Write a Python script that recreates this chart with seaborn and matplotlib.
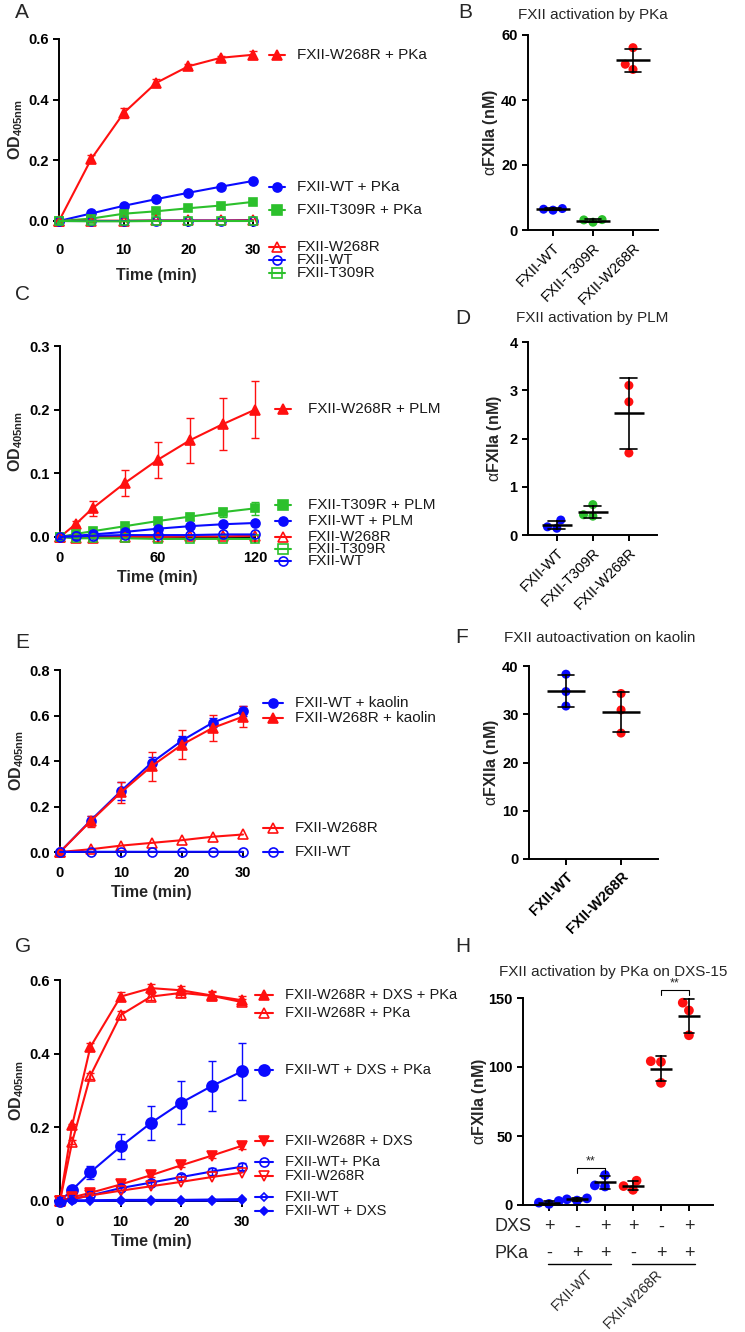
import numpy as np
import pandas as pd
import seaborn as sns
import matplotlib.pyplot as plt
from matplotlib.lines import Line2D

W, H = 745, 1332
BLUE, RED, GREEN = "#0a0aff", "#ff1010", "#2cc02c"

# ---- A: FXII activation by PKa (time course)
a_time = [0, 5, 10, 15, 20, 25, 30]
a_w268r_pka = [0, 0.205, 0.356, 0.455, 0.51, 0.538, 0.548]
a_w268r_pka_sd = [0, 0.014, 0.018, 0.014, 0.006, 0.006, 0.014]
a_wt_pka = [0, 0.025, 0.05, 0.072, 0.093, 0.113, 0.132]
a_t309r_pka = [0, 0.008, 0.024, 0.032, 0.042, 0.051, 0.063]
a_w268r = [0, 0.001, 0.001, 0.002, 0.002, 0.002, 0.003]
a_wt = [0, 0.0, 0.0, 0.001, 0.001, 0.001, 0.001]
a_t309r = [0, -0.001, -0.001, 0, 0, 0, 0]

# ---- B: FXIIa generated by PKa
b_groups = ["FXII-WT", "FXII-T309R", "FXII-W268R"]
b_wt = [6.6, 6.4, 6.1]
b_t309r = [3.2, 3.1, 2.4]
b_w268r = [56.1, 51.0, 49.4]

# ---- C: activation by PLM (time course)
c_time = [0, 10, 20, 40, 60, 80, 100, 120]
c_w268r_plm = [0, 0.021, 0.045, 0.085, 0.121, 0.152, 0.177, 0.2]
c_w268r_plm_sd = [0, 0.004, 0.012, 0.021, 0.029, 0.035, 0.041, 0.045]
c_t309r_plm = [0, 0.005, 0.009, 0.017, 0.025, 0.032, 0.039, 0.045]
c_t309r_plm_sd = [0, 0.001, 0.002, 0.003, 0.004, 0.005, 0.007, 0.01]
c_wt_plm = [0, 0.002, 0.004, 0.008, 0.013, 0.017, 0.02, 0.022]
c_w268r = [0, -0.001, -0.001, 0.0, 0.0, 0.001, 0.001, 0.002]
c_t309r = [0, -0.002, -0.002, -0.002, -0.003, -0.003, -0.003, -0.003]
c_wt = [0, 0.001, 0.002, 0.003, 0.003, 0.003, 0.004, 0.004]

# ---- D: FXIIa generated by PLM
d_groups = ["FXII-WT", "FXII-T309R", "FXII-W268R"]
d_wt = [0.31, 0.17, 0.14]
d_t309r = [0.63, 0.42, 0.39]
d_w268r = [3.1, 2.76, 1.7]

# ---- E: autoactivation on kaolin (time course)
e_time = [0, 5, 10, 15, 20, 25, 30]
e_wt_kaolin = [0, 0.138, 0.268, 0.392, 0.49, 0.568, 0.62]
e_wt_kaolin_sd = [0, 0.02, 0.04, 0.025, 0.02, 0.02, 0.02]
e_w268r_kaolin = [0, 0.135, 0.262, 0.377, 0.472, 0.545, 0.595]
e_w268r_kaolin_sd = [0, 0.025, 0.045, 0.063, 0.063, 0.058, 0.045]
e_w268r = [0, 0.012, 0.028, 0.04, 0.052, 0.067, 0.077]
e_wt = [0, 0.001, 0.001, 0.001, 0.001, 0.001, 0.001]

# ---- F: FXIIa on kaolin
f_groups = ["FXII-WT", "FXII-W268R"]
f_wt = [38.3, 34.7, 31.7]
f_w268r = [34.3, 30.9, 26.1]

# ---- G: PKa on DXS-15 (time course)
g_time = [0, 2, 5, 10, 15, 20, 25, 30]
g_w268r_dxs_pka = [0, 0.205, 0.418, 0.555, 0.578, 0.572, 0.558, 0.545]
g_w268r_dxs_pka_sd = [0, 0.005, 0.01, 0.012, 0.012, 0.012, 0.012, 0.012]
g_w268r_pka = [0, 0.16, 0.34, 0.505, 0.555, 0.565, 0.557, 0.54]
g_w268r_pka_sd = [0, 0.005, 0.008, 0.01, 0.008, 0.01, 0.01, 0.008]
g_wt_dxs_pka = [0, 0.03, 0.078, 0.148, 0.212, 0.267, 0.312, 0.352]
g_wt_dxs_pka_sd = [0, 0.004, 0.018, 0.033, 0.047, 0.058, 0.068, 0.077]
g_w268r_dxs = [0, 0.01, 0.022, 0.045, 0.07, 0.097, 0.123, 0.15]
g_w268r_dxs_sd = [0, 0.002, 0.003, 0.004, 0.005, 0.005, 0.006, 0.008]
g_wt_pka = [0, 0.005, 0.015, 0.035, 0.05, 0.065, 0.08, 0.093]
g_wt_pka_sd = [0, 0.002, 0.004, 0.005, 0.006, 0.007, 0.009, 0.01]
g_w268r = [0, 0.005, 0.015, 0.028, 0.04, 0.052, 0.065, 0.077]
g_wt = [0, 0.002, 0.002, 0.003, 0.003, 0.003, 0.004, 0.005]
g_wt_dxs = [0, 0, 0, 0.001, 0.001, 0.001, 0.001, 0.002]

# ---- H: FXIIa by PKa on DXS-15
h_groups = ["WT DXS", "WT PKa", "WT DXS+PKa", "W268R DXS", "W268R PKa", "W268R DXS+PKa"]
h_colors = [BLUE, BLUE, BLUE, RED, RED, RED]
h_dxs = ["+", "-", "+", "+", "-", "+"]
h_pka = ["-", "+", "+", "-", "+", "+"]
h_wt_dxs = [2.9, 1.7, 0.8]
h_wt_pka = [4.8, 4.1, 3.2]
h_wt_dxs_pka = [21.7, 14.2, 13.4]
h_w268r_dxs = [17.6, 13.7, 11.0]
h_w268r_pka = [104.2, 103.7, 88.5]
h_w268r_dxs_pka = [146.6, 141.0, 123.0]

sns.set_style("ticks")
plt.rcParams["font.family"] = ["Liberation Sans", "DejaVu Sans"]
plt.rcParams["mathtext.fontset"] = "custom"
plt.rcParams["mathtext.rm"] = "Liberation Sans"
plt.rcParams["mathtext.it"] = "Liberation Sans"
plt.rcParams["mathtext.bf"] = "Liberation Sans:bold"
plt.rcParams["axes.linewidth"] = 1.4
for a in ("xtick", "ytick"):
    plt.rcParams[a + ".major.width"] = 1.4
    plt.rcParams[a + ".major.size"] = 4
    plt.rcParams[a + ".color"] = "black"
plt.rcParams["axes.edgecolor"] = "black"

fig = plt.figure(figsize=(W / 100, H / 100), dpi=100)


def px_axes(l, t, r, b):
    return fig.add_axes([l / W, 1 - b / H, (r - l) / W, (b - t) / H])


def style(ax, ylab, ylab_x, bold_x=True):
    sns.despine(ax=ax)
    plt.setp(ax.get_yticklabels(), fontweight="bold", fontsize=10.5)
    plt.setp(ax.get_xticklabels(), fontweight="bold" if bold_x else "normal")
    ax.set_ylabel(ylab, fontsize=11.5, fontweight="bold")
    l = ax.get_position().x0 * W
    w = ax.get_position().width * W
    ax.yaxis.set_label_coords((ylab_x - l) / w, 0.5)


def curve(ax, x, y, color, marker, sd=None, filled=True, ms=6.5):
    if sd is not None:
        ax.errorbar(x, y, yerr=sd, fmt="none", ecolor=color, elinewidth=1,
                    capsize=3, capthick=1, clip_on=False, zorder=2)
    sns.lineplot(x=x, y=y, ax=ax, color=color, marker=marker, markersize=ms,
                 markerfacecolor=color if filled else "none", markeredgecolor=color,
                 markeredgewidth=1.2, linewidth=1.5, clip_on=False, zorder=3)


def key(x0, x1, xt, y, label, color, marker, filled=True, ms=6.5, fs=11):
    fy = 1 - y / H
    fig.add_artist(Line2D([x0 / W, x1 / W], [fy, fy], color=color, lw=1.5))
    fig.add_artist(Line2D([(x0 + x1) / 2 / W], [fy], color=color, marker=marker, ms=ms,
                          mfc=color if filled else "none", mec=color, mew=1.2, ls="none"))
    fig.text(xt / W, fy, label, fontsize=fs, va="center", ha="left", color="#1a1a1a")


def dots(ax, groups, values, colors, size, bar, cap):
    df = pd.DataFrame({"g": np.repeat(groups, [len(v) for v in values]),
                       "v": np.concatenate(values)})
    sns.swarmplot(data=df, x="g", y="v", hue="g", order=groups, hue_order=groups,
                  palette=colors, size=size, ax=ax, legend=False, zorder=2, clip_on=False)
    sns.pointplot(data=df, x="g", y="v", order=groups, errorbar="sd", color="black",
                  marker="_", markersize=bar, markeredgewidth=1.8, linestyle="none",
                  capsize=cap, err_kws={"linewidth": 1.2}, ax=ax, zorder=3)
    ax.set_xlabel("")


def time_axis(ax, xlim, xt, ylim, yt, pad=6, lpad=4):
    ax.set_xlim(*xlim)
    ax.set_ylim(*ylim)
    ax.set_xticks(xt)
    ax.set_yticks(yt)
    ax.tick_params(axis="x", labelsize=10.5, pad=pad)
    ax.set_xlabel("Time (min)", fontsize=11.5, fontweight="bold", labelpad=lpad)


od = r"OD$_{\mathbf{405nm}}$"
afx = r"$\mathrm{\alpha}$" + "FXIIa (nM)"

# ================= A
ax = px_axes(59, 39, 253, 221)
curve(ax, a_time, a_w268r_pka, RED, "^", sd=a_w268r_pka_sd)
curve(ax, a_time, a_wt_pka, BLUE, "o")
curve(ax, a_time, a_t309r_pka, GREEN, "s", ms=6)
curve(ax, a_time, a_w268r, RED, "^", filled=False)
curve(ax, a_time, a_wt, BLUE, "o", filled=False)
curve(ax, a_time, a_t309r, GREEN, "s", filled=False, ms=6)
time_axis(ax, (0, 30), [0, 10, 20, 30], (0, 0.6), [0, 0.2, 0.4, 0.6], pad=12, lpad=8)
style(ax, od, 25)
for y, lab, c, m, f in [(55, "FXII-W268R + PKa", RED, "^", True),
                        (187, "FXII-WT + PKa", BLUE, "o", True),
                        (210, "FXII-T309R + PKa", GREEN, "s", True),
                        (247, "FXII-W268R", RED, "^", False),
                        (260, "FXII-WT", BLUE, "o", False),
                        (273, "FXII-T309R", GREEN, "s", False)]:
    key(269, 285, 297, y, lab, c, m, f)

# ================= B
ax = px_axes(528, 35, 658, 230)
dots(ax, b_groups, [b_wt, b_t309r, b_w268r], [BLUE, GREEN, RED], 6.5, 24, 0.4)
ax.set_xlim(-0.625, 2.625)
ax.set_ylim(0, 60)
ax.set_yticks([0, 20, 40, 60])
ax.set_xticks(range(3))
ax.set_xticklabels(b_groups, rotation=45, ha="right", rotation_mode="anchor", fontsize=10.5)
style(ax, afx, 500, bold_x=False)

# ================= C
ax = px_axes(60, 346, 255, 537)
curve(ax, c_time, c_w268r_plm, RED, "^", sd=c_w268r_plm_sd)
curve(ax, c_time, c_t309r_plm, GREEN, "s", sd=c_t309r_plm_sd, ms=6)
curve(ax, c_time, c_wt_plm, BLUE, "o")
curve(ax, c_time, c_w268r, RED, "^", filled=False)
curve(ax, c_time, c_t309r, GREEN, "s", filled=False, ms=6)
curve(ax, c_time, c_wt, BLUE, "o", filled=False)
time_axis(ax, (0, 120), [0, 60, 120], (0, 0.3), [0, 0.1, 0.2, 0.3])
style(ax, od, 25)
for y, lab, c, m, f in [(409, "FXII-W268R + PLM", RED, "^", True),
                        (505, "FXII-T309R + PLM", GREEN, "s", True),
                        (521, "FXII-WT + PLM", BLUE, "o", True),
                        (537, "FXII-W268R", RED, "^", False),
                        (549, "FXII-T309R", GREEN, "s", False),
                        (561, "FXII-WT", BLUE, "o", False)]:
    key(275, 291, 308, y, lab, c, m, f)

# ================= D
ax = px_axes(528, 342, 657, 535)
dots(ax, d_groups, [d_wt, d_t309r, d_w268r], [BLUE, GREEN, RED], 6.5, 22, 0.47)
ax.set_xlim(-0.8, 2.78)
ax.set_ylim(0, 4)
ax.set_yticks([0, 1, 2, 3, 4])
ax.set_xticks(range(3))
ax.set_xticklabels(d_groups, rotation=45, ha="right", rotation_mode="anchor", fontsize=10.5)
style(ax, afx, 504, bold_x=False)

# ================= E
ax = px_axes(60, 670, 243, 852)
curve(ax, e_time, e_wt_kaolin, BLUE, "o", sd=e_wt_kaolin_sd)
curve(ax, e_time, e_w268r_kaolin, RED, "^", sd=e_w268r_kaolin_sd)
curve(ax, e_time, e_w268r, RED, "^", filled=False)
curve(ax, e_time, e_wt, BLUE, "o", filled=False)
time_axis(ax, (0, 30), [0, 10, 20, 30], (0, 0.8), [0, 0.2, 0.4, 0.6, 0.8])
style(ax, od, 26)
for y, lab, c, m, f in [(703, "FXII-WT + kaolin", BLUE, "o", True),
                        (718, "FXII-W268R + kaolin", RED, "^", True),
                        (828, "FXII-W268R", RED, "^", False),
                        (852, "FXII-WT", BLUE, "o", False)]:
    key(263, 283, 295, y, lab, c, m, f)

# ================= F
ax = px_axes(529, 666, 658, 859)
dots(ax, f_groups, [f_wt, f_w268r], [BLUE, RED], 6.5, 27, 0.3)
ax.set_xlim(-0.67, 1.67)
ax.set_ylim(0, 40)
ax.set_yticks([0, 10, 20, 30, 40])
ax.set_xticks(range(2))
ax.set_xticklabels(f_groups, rotation=45, ha="right", rotation_mode="anchor", fontsize=10.5)
style(ax, afx, 501, bold_x=True)

# ================= G
ax = px_axes(60, 980, 242, 1201)
curve(ax, g_time, g_w268r_dxs_pka, RED, "^", sd=g_w268r_dxs_pka_sd)
curve(ax, g_time, g_w268r_pka, RED, "^", sd=g_w268r_pka_sd, filled=False)
curve(ax, g_time, g_wt_dxs_pka, BLUE, "o", sd=g_wt_dxs_pka_sd, ms=8)
curve(ax, g_time, g_w268r_dxs, RED, "v", sd=g_w268r_dxs_sd)
curve(ax, g_time, g_wt_pka, BLUE, "o", sd=g_wt_pka_sd, filled=False)
curve(ax, g_time, g_w268r, RED, "v", filled=False)
curve(ax, g_time, g_wt, BLUE, "D", filled=False, ms=4.5)
curve(ax, g_time, g_wt_dxs, BLUE, "D", ms=4.5)
time_axis(ax, (0, 30), [0, 10, 20, 30], (0, 0.6), [0, 0.2, 0.4, 0.6])
style(ax, od, 26)
for y, lab, c, m, f, ms in [(995, "FXII-W268R + DXS + PKa", RED, "^", True, 6.5),
                            (1013, "FXII-W268R + PKa", RED, "^", False, 6.5),
                            (1070, "FXII-WT + DXS + PKa", BLUE, "o", True, 8),
                            (1141, "FXII-W268R + DXS", RED, "v", True, 6.5),
                            (1162, "FXII-WT+ PKa", BLUE, "o", False, 6.5),
                            (1176, "FXII-W268R", RED, "v", False, 6.5),
                            (1197, "FXII-WT", BLUE, "D", False, 4.5),
                            (1211, "FXII-WT + DXS", BLUE, "D", True, 4.5)]:
    key(255, 273, 285, y, lab, c, m, f, ms=ms, fs=10.5)

# ================= H
ax = px_axes(523, 998, 713, 1205)
dots(ax, h_groups, [h_wt_dxs, h_wt_pka, h_wt_dxs_pka, h_w268r_dxs, h_w268r_pka,
                    h_w268r_dxs_pka], h_colors, 7, 16, 0.36)
ax.set_xlim(-0.93, 5.86)
ax.set_ylim(0, 150)
ax.set_yticks([0, 50, 100, 150])
ax.set_xticks(range(6))
ax.set_xticklabels([])
style(ax, afx, 489, bold_x=False)
tr = ax.get_xaxis_transform()
ax.text(-1.95, -0.106, "DXS", transform=tr, fontsize=13, va="center", ha="left")
ax.text(-1.95, -0.232, "PKa", transform=tr, fontsize=13, va="center", ha="left")
for i in range(6):
    ax.text(i, -0.106, h_dxs[i], transform=tr, fontsize=13, va="center", ha="center")
    ax.text(i, -0.232, h_pka[i], transform=tr, fontsize=13, va="center", ha="center")
for g0, gx, lab in [(0, 1.3, "FXII-WT"), (3, 3.8, "FXII-W268R")]:
    ax.plot([g0 - 0.05, g0 + 2.2], [-0.285, -0.285], transform=tr, color="black",
            lw=1, clip_on=False)
    ax.text(gx, -0.30, lab, transform=tr, fontsize=10, rotation=45,
            ha="right", va="top", rotation_mode="anchor")
for i0, i1, yb in [(1, 2, 26.8), (4, 5, 155.8)]:
    ax.plot([i0, i0, i1, i1], [yb - 3.6, yb, yb, yb - 3.6], color="black", lw=0.8,
            clip_on=False)
    ax.text((i0 + i1) / 2, yb + 0.5, "**", ha="center", va="bottom", fontsize=9)

# ================= panel letters and titles
for x, y, s in [(15, 13, "A"), (458, 13, "B"), (15, 294, "C"), (455, 318, "D"),
                (15, 643, "E"), (455, 638, "F"), (15, 947, "G"), (455, 947, "H")]:
    fig.text(x / W, 1 - y / H, s, fontsize=15, va="center", ha="left")
for x, y, s in [(593, 15, "FXII activation by PKa"), (592, 318, "FXII activation by PLM"),
                (600, 638, "FXII autoactivation on kaolin"),
                (613, 972, "FXII activation by PKa on DXS-15")]:
    fig.text(x / W, 1 - y / H, s, fontsize=11, va="center", ha="center")

fig.savefig("out.png", dpi=100)
